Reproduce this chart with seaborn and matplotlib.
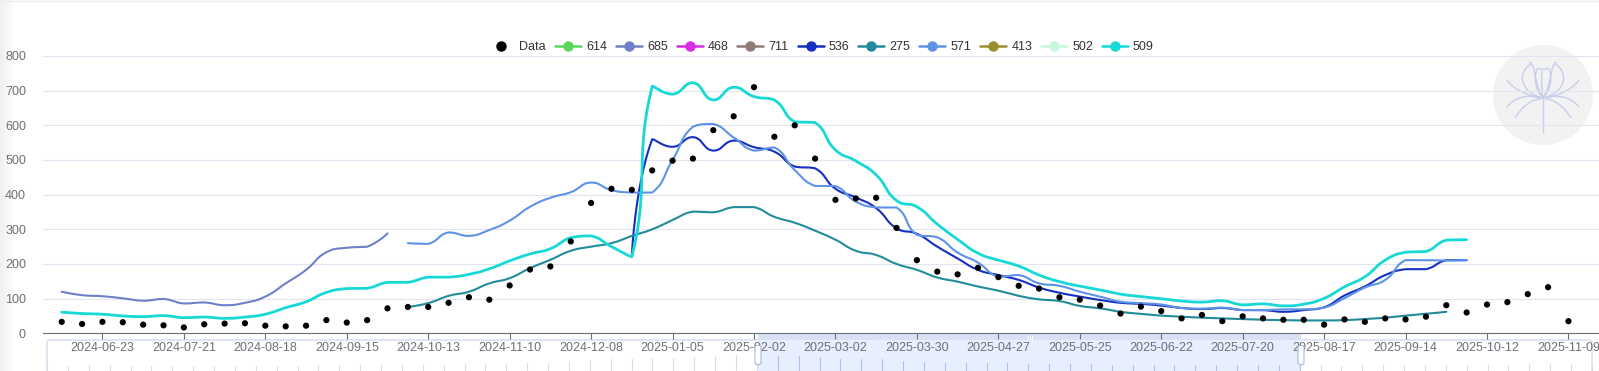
import numpy as np
import pandas as pd
import matplotlib
matplotlib.use("Agg")
import matplotlib.pyplot as plt
import seaborn as sns
from matplotlib.lines import Line2D
from matplotlib.patches import Circle, Rectangle, FancyBboxPatch, PathPatch
from matplotlib.path import Path

# weekly observations, first one on 2024-06-09
weeks = pd.date_range("2024-06-09", periods=75, freq="7D")

data_vals = [33, 27, 33, 32, 25, 23, 17, 26, 28, 29, 22, 20, 22, 38, 31, 38, 72, 76,
             76, 88, 104, 97, 138, 184, 193, 265, 376, 417, 414, 470, 498, 504,
             586, 626, 710, 567, 600, 504, 385, 389,
             391, 304, 211, 178, 170, 189, 162, 137, 129, 104, 97, 80, 57, 77, 64, 43,
             53, 35, 49, 43, 39, 39, 25, 40, 33, 43, 40, 48, 81, 60, 83, 90, 113, 133, 35]

# model series: (first week index, values)
s614 = (0, [])
s685 = (0, [120, 110, 107, 101, 94, 99, 86, 89, 81, 88, 106, 144, 183, 234, 247, 250, 288])
s468 = (0, [])
s711 = (0, [])
s536 = (28, [225,
             560, 538, 566, 527, 556, 537, 524, 481, 476, 417, 392,
             361, 303, 287, 250, 216, 183, 168, 154, 132, 117, 106, 96, 88, 85, 80, 73,
             70, 73, 67, 67, 62, 67, 75, 109, 135, 168, 185, 185, 211, 211])
s275 = (17, [76, 87, 108, 120, 144, 159, 188, 212, 238, 250, 260, 281,
             300, 327, 351, 349, 364, 364, 336, 319, 296, 270, 238,
             226, 200, 183, 161, 149, 135, 123, 108, 98, 93, 79, 72, 62, 56, 51, 48,
             45, 43, 41, 39, 38, 37, 37, 38, 41, 45, 51, 56, 62])
s571 = (17, [260, 258, 291, 281, 298, 325, 365, 391, 407, 435, 413, 406,
             406, 500, 596, 604, 565, 527, 536, 471, 425, 425, 380,
             363, 363, 284, 277, 233, 204, 163, 168, 144, 137, 120, 106, 91, 87, 83, 73,
             71, 74, 67, 67, 69, 69, 74, 101, 132, 154, 211, 211, 210, 211])
s413 = (0, [])
s502 = (0, [])
s509 = (0, [61, 57, 55, 50, 48, 51, 45, 47, 43, 47, 55, 74, 91, 118, 129, 130, 147, 147,
            162, 162, 170, 186, 209, 229, 244, 276, 281, 250, 221,
            713, 690, 723, 673, 710, 683, 673, 610, 608, 529, 497,
            457, 383, 365, 315, 271, 231, 211, 194, 168, 149, 136, 125, 113, 106, 100, 93,
            90, 94, 82, 85, 79, 84, 101, 134, 163, 211, 234, 236, 269, 270])

series = {"614": s614, "685": s685, "468": s468, "711": s711, "536": s536,
          "275": s275, "571": s571, "413": s413, "502": s502, "509": s509}
colors = {"614": "#5cd65c", "685": "#7080c8", "468": "#d92be8", "711": "#907a75",
          "536": "#1530c0", "275": "#228b9c", "571": "#5e92e6", "413": "#9a8f2d",
          "502": "#c8f7dc", "509": "#16d9d6"}

days = np.array((weeks - weeks[0]).days)
tick_days = np.arange(14, 519, 28)
tick_labels = [(weeks[0] + pd.Timedelta(days=int(d))).strftime("%Y-%m-%d") for d in tick_days]

W, H = 1599, 371
PX_DAY = 2.9086
PX_VAL = 0.3466


def smooth_line(xs, ys, smooth=0.5, n=16):
    # echarts style bezier smoothing, done in pixel space
    p = np.column_stack([np.asarray(xs, float) * PX_DAY, np.asarray(ys, float) * PX_VAL])
    m = len(p)
    cin = p.copy()
    cout = p.copy()
    for i in range(1, m - 1):
        v = (p[i + 1] - p[i - 1]) * smooth
        d0 = np.hypot(*(p[i] - p[i - 1]))
        d1 = np.hypot(*(p[i + 1] - p[i]))
        r = d1 / (d0 + d1)
        a = p[i] - v * (1 - r)
        b = p[i] + v * r
        cin[i] = np.clip(a, np.minimum(p[i - 1], p[i]), np.maximum(p[i - 1], p[i]))
        cout[i] = np.clip(b, np.minimum(p[i + 1], p[i]), np.maximum(p[i + 1], p[i]))
    t = np.linspace(0, 1, n)[:, None]
    out = [p[:1]]
    for i in range(m - 1):
        seg = ((1 - t) ** 3 * p[i] + 3 * (1 - t) ** 2 * t * cout[i]
               + 3 * (1 - t) * t ** 2 * cin[i + 1] + t ** 3 * p[i + 1])
        out.append(seg[1:])
    pts = np.vstack(out)
    return pts[:, 0] / PX_DAY, pts[:, 1] / PX_VAL


sns.set_theme(style="white")
plt.rcParams["font.family"] = ["Liberation Sans", "DejaVu Sans"]

fig = plt.figure(figsize=(W / 100, H / 100), dpi=100)
fig.patch.set_facecolor("white")

# background decorations in pixel coords
back = fig.add_axes([0, 0, 1, 1], zorder=0)
back.set_xlim(0, W)
back.set_ylim(H, 0)
back.axis("off")
for k, g in enumerate(["#f0f0f0", "#f2f2f2", "#f4f4f4", "#f6f6f6", "#f8f8f8", "#fafafa", "#fcfcfc"]):
    back.add_patch(Rectangle((k * 2, 0), 2, H, color=g, lw=0))
back.plot([0, W], [0.5, 0.5], color="#ececec", lw=1)

# logo
cx, cy = 1543, 95
back.add_patch(Circle((cx, cy), 50, color="#f2f2f2", lw=0))
lotus = [
    [(-12, -31), (-27, -22), (-22, -2), (0, 3)],
    [(12, -31), (27, -22), (22, -2), (0, 3)],
    [(-14, -33), (-6, -30), (-10, -12), (0, 3)],
    [(14, -33), (6, -30), (10, -12), (0, 3)],
    [(-5, -27), (-10, -20), (-8, -5), (0, 3)],
    [(5, -27), (10, -20), (8, -5), (0, 3)],
    [(-5, -27), (-2, -25), (2, -25), (5, -27)],
    [(-1, -24), (-2, -12), (-1, -3), (0, 3)],
    [(-36, -15), (-28, -4), (-15, 0), (-3, 3)],
    [(36, -15), (28, -4), (15, 0), (3, 3)],
    [(-36, 12), (-28, 2), (-15, -1), (-3, 3)],
    [(36, 12), (28, 2), (15, -1), (3, 3)],
    [(-28, 23), (-20, 10), (-10, 4), (-2, 4)],
    [(28, 23), (20, 10), (10, 4), (2, 4)],
]
for pts in lotus:
    path = Path([(cx + a, cy + b) for a, b in pts],
                [Path.MOVETO, Path.CURVE4, Path.CURVE4, Path.CURVE4])
    back.add_patch(PathPatch(path, fill=False, ec="#c8cdea", lw=1.0))
back.plot([cx, cx], [cy + 3, cy + 37], color="#c8cdea", lw=1.0)

# data zoom slider
sl_x0, sl_x1, sel0, sel1 = 47, 1592, 758, 1301
back.add_patch(FancyBboxPatch((sl_x0, 340), sl_x1 - sl_x0, 40, boxstyle="round,pad=0,rounding_size=3",
                              fc="none", ec="#d2dbee", lw=1))
back.add_patch(Rectangle((sel0, 340), sel1 - sel0, 31, fc="#e7eefd", lw=0))
back.add_patch(Rectangle((sel0, 333.5), sel1 - sel0, 6.5, fc="#dae1f4", lw=0))
for k in (-2, 0, 2):
    back.plot([(sel0 + sel1) / 2 + k] * 2, [335.5, 338.5], color="#ffffff", lw=0.7)
sx = sl_x0 + days / days[-1] * (sl_x1 - sl_x0)
for xv, v in zip(sx, data_vals):
    col = "#a9c0f3" if sel0 < xv < sel1 else "#d8dce6"
    back.plot([xv, xv], [370, 366 - v / 710 * 12], color=col, lw=0.8)

# main chart
ax = fig.add_axes([43.3 / W, 1 - 333.3 / H, (W - 43.3) / W, (333.3 - 56) / H], zorder=1)
ax.patch.set_alpha(0)

for name, (first, vals) in series.items():
    if not vals:
        continue
    xs = days[first:first + len(vals)]
    lx, ly = smooth_line(xs, vals)
    sns.lineplot(x=lx, y=ly, sort=False, estimator=None, color=colors[name],
                 lw=2.0 if name == "509" else 1.5, ax=ax, zorder=3)

sns.scatterplot(x=days, y=data_vals, color="black", s=20, edgecolor="none", ax=ax, zorder=5)

ax.set_xlim(-6.33, 528.5)
ax.set_ylim(0, 800)
ax.set_yticks(range(0, 801, 100))
ax.set_xticks(tick_days)
ax.set_xticklabels(tick_labels)
ax.grid(axis="y", color="#e0e6f1", lw=0.8)
ax.grid(axis="x", visible=False)
for s in ("top", "right", "left"):
    ax.spines[s].set_visible(False)
ax.spines["bottom"].set_color("#6e7079")
ax.spines["bottom"].set_linewidth(0.8)
ax.tick_params(axis="x", bottom=True, length=4, width=0.8, color="#6e7079",
               labelcolor="#6e7079", labelsize=9, pad=2)
ax.tick_params(axis="y", left=False, labelcolor="#6e7079", labelsize=9, pad=6.5)
ax.set_xlabel("")
ax.set_ylabel("")

# slider handles on top
front = fig.add_axes([0, 0, 1, 1], zorder=3)
front.set_xlim(0, W)
front.set_ylim(H, 0)
front.axis("off")
for hx in (sel0, sel1):
    front.add_patch(FancyBboxPatch((hx - 3, 345.5), 6, 19, boxstyle="round,pad=0,rounding_size=2",
                                   fc="white", ec="#acb8d1", lw=0.8))

# legend
handles = [Line2D([], [], marker="o", ls="none", color="black", markersize=6.5)]
labels = ["Data"]
for name in series:
    handles.append(Line2D([], [], color=colors[name], lw=1.8, marker="o", markersize=6.5))
    labels.append(name)
fig.legend(handles, labels, loc="center", bbox_to_anchor=(821 / W, 1 - 47 / H), ncol=11,
           frameon=False, fontsize=9, handlelength=2.08, handletextpad=0.42,
           columnspacing=0.7, labelcolor="#333333")

fig.savefig("out.png", dpi=100)
